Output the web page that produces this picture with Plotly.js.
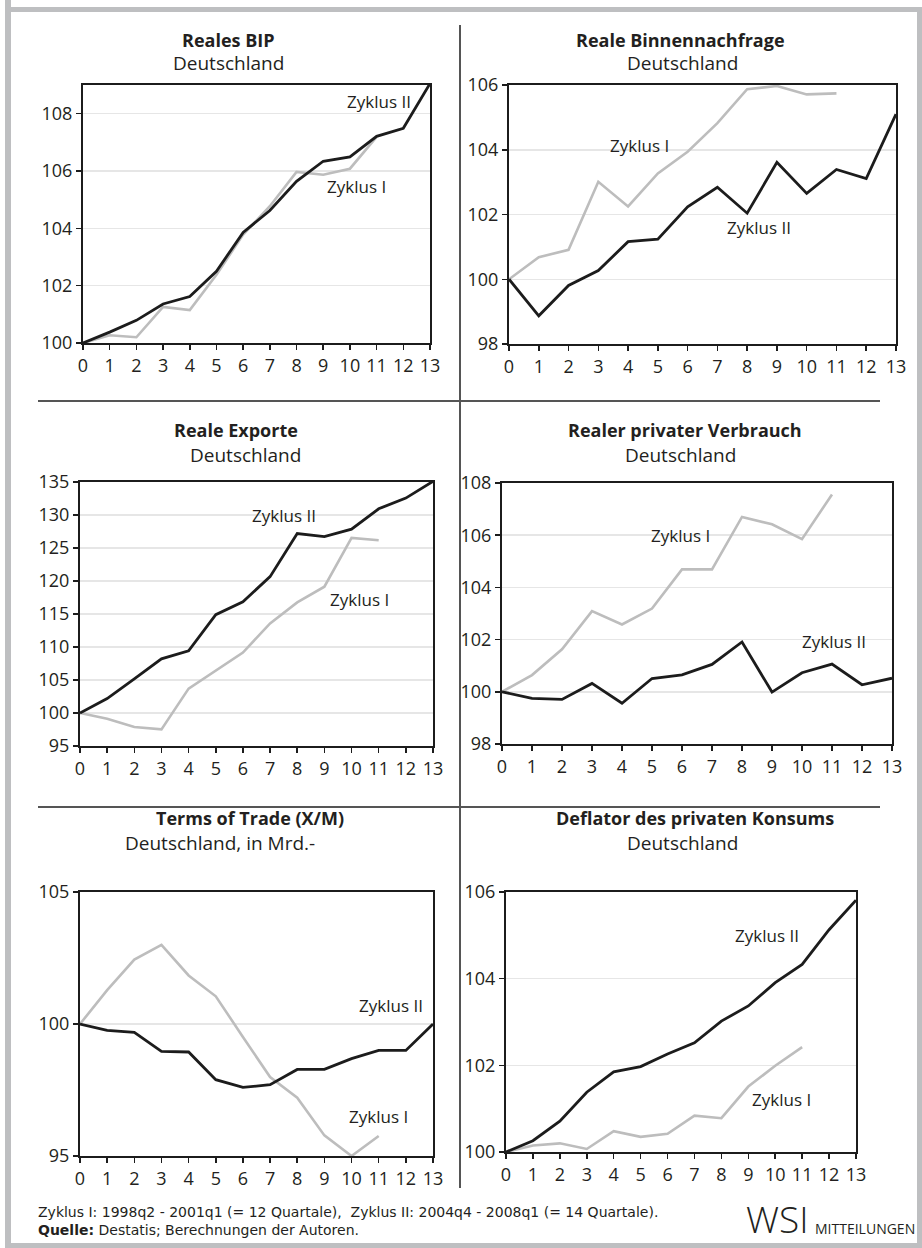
<!DOCTYPE html>
<html>
<head>
<meta charset="utf-8">
<script src="https://cdn.plot.ly/plotly-3.0.1.min.js"></script>
<style>
html,body{margin:0;padding:0;background:#fff;}
#chart{width:922px;height:1248px;}
</style>
</head>
<body>
<div id="chart"></div>
<script>
// ---------- data ----------
const quarters = [0,1,2,3,4,5,6,7,8,9,10,11,12,13];

const bipII = [100,100.38,100.79,101.36,101.62,102.5,103.86,104.62,105.64,106.34,106.49,107.21,107.49,109.05];
const bipI  = [100,100.27,100.2,101.26,101.15,102.38,103.78,104.77,105.97,105.87,106.08,107.19];

const binII = [100,98.87,99.81,100.27,101.16,101.24,102.24,102.84,102.04,103.61,102.65,103.39,103.11,105.1];
const binI  = [100,100.68,100.91,103.01,102.25,103.27,103.94,104.82,105.87,105.97,105.71,105.74];

const expII = [100,102.18,105.16,108.2,109.42,114.89,116.86,120.66,127.19,126.73,127.85,130.94,132.56,135.1];
const expI  = [100,99.14,97.87,97.52,103.7,106.48,109.16,113.57,116.76,119.14,126.53,126.18];

const verII = [100,99.75,99.71,100.32,99.56,100.51,100.65,101.05,101.91,99.99,100.73,101.06,100.27,100.52];
const verI  = [100,100.64,101.63,103.09,102.58,103.19,104.69,104.69,106.7,106.42,105.85,107.56];

const totII = [100,99.76,99.68,98.96,98.94,97.89,97.6,97.7,98.28,98.28,98.69,99.0,99.0,100];
const totI  = [100,101.28,102.44,103.0,101.84,101.05,99.51,97.99,97.21,95.78,95.0,95.76];

const defII = [100,100.26,100.71,101.38,101.85,101.97,102.26,102.52,103.02,103.37,103.91,104.33,105.13,105.81];
const defI  = [100,100.15,100.2,100.07,100.48,100.35,100.42,100.84,100.78,101.51,101.99,102.42];

const panelTitles = ["Reales BIP","Reale Binnennachfrage","Reale Exporte","Realer privater Verbrauch","Terms of Trade (X/M)","Deflator des privaten Konsums"];
const panelSubtitles = ["Deutschland","Deutschland","Deutschland","Deutschland","Deutschland, in Mrd.-","Deutschland"];
const seriesNames = ["Zyklus I","Zyklus II"];
const footNote = "Zyklus I: 1998q2 - 2001q1 (= 12 Quartale),  Zyklus II: 2004q4 - 2008q1 (= 14 Quartale).";
const sourceNote = "<b>Quelle:</b> Destatis; Berechnungen der Autoren.";

// ---------- layout helpers ----------
const W = 922, H = 1248;
const X = px => px / W;
const Y = py => 1 - py / H;
const TXT = '#231f20';
const BLACK = '#1c1c1c';
const GREY = '#bdbdbd';
const FONT = 'Open Sans, DejaVu Sans, sans-serif';

// pixel boxes [left,right,top,bottom] per panel
const boxes = [
  [83,430,85,343],
  [509,896,85,344],
  [80,433,482,746],
  [502,892,483,744],
  [80,433,892,1156],
  [506,856,892,1152]
];
const yRanges = [[100,109],[98,106],[95,135],[98,108],[95,105],[100,106]];
const yDticks = [2,2,5,2,5,2];
const seriesI = [bipI,binI,expI,verI,totI,defI];
const seriesII = [bipII,binII,expII,verII,totII,defII];

// label positions (data coords) [xI,yI,xII,yII]
const labelPos = [
  [10.25,105.45, 11.1,108.43],
  [4.38,104.14, 8.4,101.59],
  [10.3,117.27, 7.51,129.87],
  [5.94,106.0, 11.08,101.91],
  [11.0,96.5, 11.45,100.71],
  [10.24,101.22, 9.71,105.0]
];
// title centers [x, yTitle, xSub, ySub]
const titlePos = [
  [228,40,228,63],
  [680,40,682,63],
  [236,430,245,455],
  [685,430,680,455],
  [250,818,220,843],
  [695,818,682,843]
];

const traces = [];
const layout = {
  width: W, height: H,
  margin: {l:0,r:0,t:0,b:0},
  paper_bgcolor: '#ffffff',
  plot_bgcolor: '#ffffff',
  showlegend: false,
  font: {family: FONT, color: TXT, size: 17},
  annotations: [],
  shapes: []
};

for (let i = 0; i < 6; i++) {
  const n = i === 0 ? '' : String(i+1);
  const xa = 'x' + n, ya = 'y' + n;
  const b = boxes[i];
  traces.push({
    x: quarters.slice(0, seriesI[i].length), y: seriesI[i],
    xaxis: xa, yaxis: ya, type: 'scatter', mode: 'lines',
    name: seriesNames[0], line: {color: GREY, width: 2.6}, hoverinfo: 'skip'
  });
  traces.push({
    x: quarters.slice(0, seriesII[i].length), y: seriesII[i],
    xaxis: xa, yaxis: ya, type: 'scatter', mode: 'lines',
    name: seriesNames[1], line: {color: BLACK, width: 2.8}, hoverinfo: 'skip'
  });
  layout['xaxis' + n] = {
    domain: [X(b[0]), X(b[1])], anchor: ya, range: [0,13],
    tickmode: 'array', tickvals: quarters, ticktext: quarters.map(String),
    showline: true, mirror: true, linecolor: BLACK, linewidth: 2,
    ticks: 'outside', ticklen: 5, tickwidth: 1.5, tickcolor: BLACK,
    showgrid: false, zeroline: false, fixedrange: true,
    tickfont: {family: FONT, size: 18, color: TXT}
  };
  layout['yaxis' + n] = {
    domain: [Y(b[3]), Y(b[2])], anchor: xa, range: yRanges[i],
    tick0: yRanges[i][0], dtick: yDticks[i],
    showline: true, mirror: true, linecolor: BLACK, linewidth: 2,
    ticks: 'outside', ticklen: 5, tickwidth: 1.5, tickcolor: BLACK,
    showgrid: true, gridcolor: '#e6e6e6', gridwidth: 1.5,
    zeroline: false, fixedrange: true,
    tickfont: {family: FONT, size: 18, color: TXT}
  };
  const lp = labelPos[i];
  layout.annotations.push({xref: xa, yref: ya, x: lp[0], y: lp[1], text: seriesNames[0],
    showarrow: false, font: {family: FONT, size: 17, color: TXT}});
  layout.annotations.push({xref: xa, yref: ya, x: lp[2], y: lp[3], text: seriesNames[1],
    showarrow: false, font: {family: FONT, size: 17, color: TXT}});
  const tp = titlePos[i];
  layout.annotations.push({xref: 'paper', yref: 'paper', x: X(tp[0]), y: Y(tp[1]),
    xanchor: 'center', yanchor: 'middle', showarrow: false,
    text: '<b>' + panelTitles[i] + '</b>', font: {family: FONT, size: 18, color: TXT}});
  layout.annotations.push({xref: 'paper', yref: 'paper', x: X(tp[2]), y: Y(tp[3]),
    xanchor: 'center', yanchor: 'middle', showarrow: false,
    text: panelSubtitles[i], font: {family: FONT, size: 19, color: TXT}});
}

// footer (one two-line note)
layout.annotations.push({xref:'paper', yref:'paper', x: X(36), y: Y(1221), xanchor:'left', yanchor:'middle',
  align:'left', showarrow:false, text: footNote + '<br>' + sourceNote,
  font:{family: 'DejaVu Sans, sans-serif', size: 14, color: TXT}});
layout.annotations.push({xref:'paper', yref:'paper', x: X(811), y: Y(1246), xanchor:'right', yanchor:'bottom',
  showarrow:false, text: 'WSI', font:{family: FONT, size: 37, color: TXT, weight: 300}});
layout.annotations.push({xref:'paper', yref:'paper', x: X(813), y: Y(1240), xanchor:'left', yanchor:'bottom',
  showarrow:false, text: 'MITTEILUNGEN', font:{family: FONT, size: 14, color: TXT}});

// frame and dividers
const FR = '#bebfc1';
layout.shapes.push(
  {type:'rect', xref:'paper', yref:'paper', x0:X(5), x1:X(11), y0:Y(1248), y1:Y(0), fillcolor:FR, line:{width:0}},
  {type:'rect', xref:'paper', yref:'paper', x0:X(5), x1:X(922), y0:Y(12), y1:Y(7), fillcolor:FR, line:{width:0}},
  {type:'rect', xref:'paper', yref:'paper', x0:X(917), x1:X(922), y0:Y(1248), y1:Y(7), fillcolor:FR, line:{width:0}},
  {type:'rect', xref:'paper', yref:'paper', x0:X(5), x1:X(922), y0:Y(1248), y1:Y(1243), fillcolor:FR, line:{width:0}},
  {type:'line', xref:'paper', yref:'paper', x0:X(460), x1:X(460), y0:Y(25), y1:Y(1188), line:{color:'#555', width:2}},
  {type:'line', xref:'paper', yref:'paper', x0:X(38), x1:X(880), y0:Y(401), y1:Y(401), line:{color:'#555', width:2}},
  {type:'line', xref:'paper', yref:'paper', x0:X(38), x1:X(880), y0:Y(807), y1:Y(807), line:{color:'#555', width:2}}
);

Plotly.newPlot('chart', traces, layout, {displayModeBar: false, staticPlot: true});
</script>
</body>
</html>
